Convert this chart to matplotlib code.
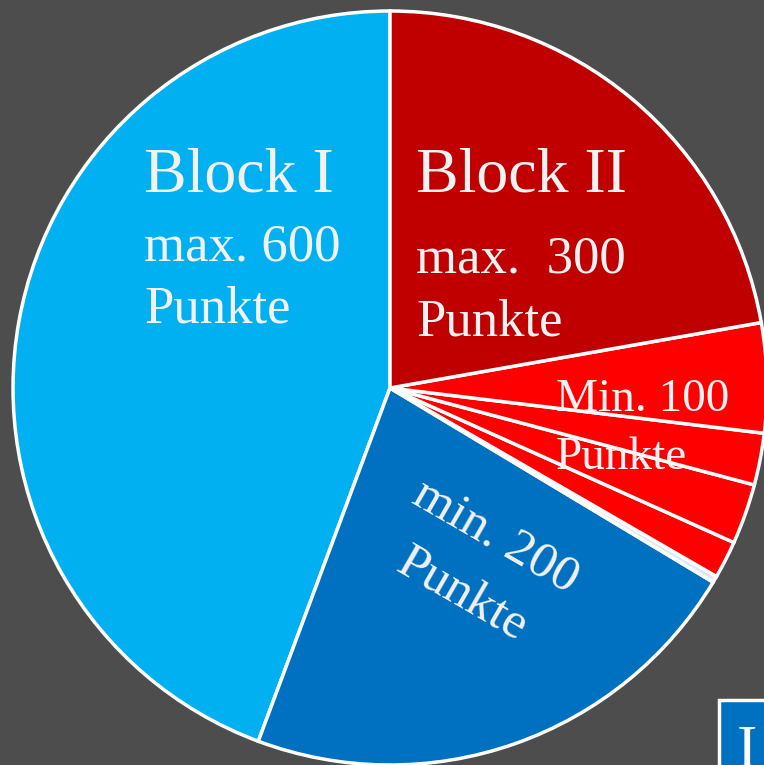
import matplotlib
matplotlib.use("Agg")
import matplotlib.pyplot as plt
from matplotlib.patches import Rectangle

# Slice shares (degrees of the circle), counterclockwise from the top
labels = ["Block I", "Block III", "gap", "r1", "r2", "r3", "r4", "Block II"]
values = [159.55, 79.45, 1.0, 5.8, 9.3, 8.0, 16.9, 80.0]
colors = ["#00B0F0", "#0070C0", "#DCE9F5", "#FF0000", "#FF0000", "#FF0000", "#FF0000", "#C00000"]

BG = "#4D4D4D"
W, H = 764, 765
fig = plt.figure(figsize=(W / 100, H / 100), dpi=100, facecolor=BG)
ax = fig.add_axes([0, 0, 1, 1])
ax.set_facecolor(BG)

cx, cy, r = 390, H - 388, 377
ax.pie(values, colors=colors, startangle=90, counterclock=True,
       center=(cx, cy), radius=r, frame=True,
       wedgeprops=dict(edgecolor="white", linewidth=2.5))
ax.set_xlim(0, W)
ax.set_ylim(0, H)
ax.set_aspect("equal")
ax.axis("off")

serif = ["Liberation Serif", "DejaVu Serif"]
tc = "#F2F2F2"

def t(x, y, s, size, **kw):
    ax.text(x, H - y, s, fontsize=size, color=tc, family=serif,
            ha="left", va="center", **kw)

t(144, 176, "Block I", 46)
t(144, 247, "max. 600", 38)
t(144, 309, "Punkte", 38)
t(416, 176, "Block II", 46)
t(416, 259, "max.  300", 38)
t(416, 322, "Punkte", 38)
t(556, 400, "Min. 100", 34)
t(556, 458, "Punkte", 34)
ax.text(479, H - 566, "min. 200\nPunkte", fontsize=37, color=tc, family=serif,
        ha="center", va="center", rotation=-30, linespacing=1.6,
        multialignment="center", rotation_mode="anchor")

ax.add_patch(Rectangle((719, H - 800), 120, 100, facecolor="#0070C0",
                       edgecolor="white", linewidth=2.5, clip_on=False))
ax.text(737, H - 752, "I", fontsize=44, color="white", family=serif,
        ha="left", va="center")

fig.savefig("out.png", dpi=100, facecolor=BG)
